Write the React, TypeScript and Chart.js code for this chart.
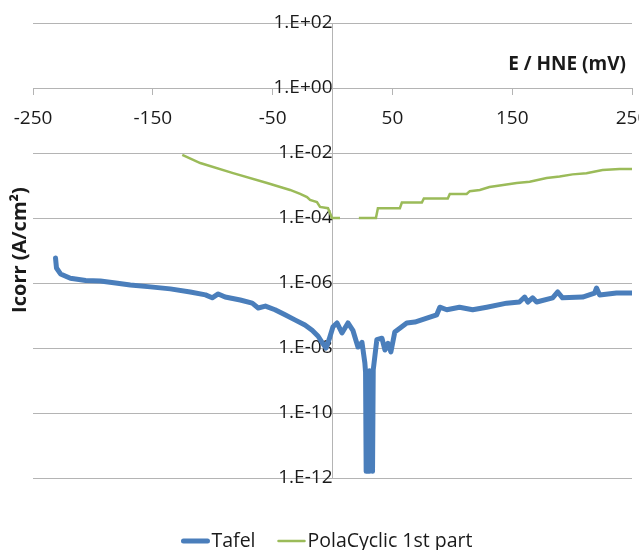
import React, { useEffect, useRef } from 'react';
import { Chart, registerables } from 'chart.js';

Chart.register(...registerables);

// ---- data ----
const xTickValues = [-250, -150, -50, 50, 150, 250];
const yTickValues = [1e-12, 1e-10, 1e-8, 1e-6, 1e-4, 1e-2, 1, 1e2];

const tafelE = [
  -231.2, -230.4, -227, -218.8, -206, -193.75, -181, -168.75, -152, -135.4,
  -118.75, -106, -100.4, -95.4, -89.6, -77, -67, -62, -56, -48,
  -39.6, -31, -23, -17, -12, -8.75, -5.4, -2.9, 0.4, 3.75,
  7.9, 12.9, 17, 21.25, 24.6, 27, 27.6, 28.1, 30.6, 30.9,
  33.4, 34,
  37, 41.25, 43.75, 46.25, 48.75, 52, 62, 68.75, 78.75, 87,
  89.6, 95.4, 106, 117, 128.75, 145.4, 156, 160.4, 163, 167,
  170.4, 183.75, 188, 192, 208.75, 218.75, 220.4, 223, 237, 249.6,
];
const tafelI = [
  5.9e-6, 2.9e-6, 1.9e-6, 1.4e-6, 1.2e-6, 1.15e-6, 1.0e-6, 8.7e-7, 7.6e-7, 6.6e-7,
  5.3e-7, 4.3e-7, 3.5e-7, 4.6e-7, 3.7e-7, 3.0e-7, 2.4e-7, 1.7e-7, 1.95e-7, 1.5e-7,
  1.05e-7, 7.2e-8, 5.1e-8, 3.5e-8, 2.3e-8, 1.5e-8, 1.0e-8, 1.8e-8, 4.5e-8, 5.9e-8,
  2.9e-8, 5.9e-8, 3.5e-8, 1.07e-8, 1.5e-8, 3.5e-9, 1.8e-9, 1.6e-12, 1.6e-12, 2.0e-9,
  1.6e-12, 2.1e-9,
  1.8e-8, 2.0e-8, 8.7e-9, 1.4e-8, 7.6e-9, 3.1e-8, 5.9e-8, 6.3e-8, 8.3e-8, 1.05e-7,
  1.8e-7, 1.5e-7, 1.8e-7, 1.5e-7, 1.8e-7, 2.4e-7, 2.6e-7, 3.7e-7, 2.6e-7, 3.5e-7,
  2.6e-7, 3.5e-7, 5.3e-7, 3.5e-7, 3.7e-7, 4.9e-7, 7.0e-7, 4.3e-7, 4.9e-7, 4.9e-7,
];

const polaE = [
  -125.4, -110.4, -83, -54.6, -35.4, -27, -21.25, -18.75, -13, -10.4,
  -3.75, -0.4, 6.25, 14, 22, 36.25, 37.9, 56.25, 57.9, 74.6,
  76.25, 96.25, 97.9, 112, 114.6, 123, 131, 139.6, 153.75, 164.6,
  178.75, 189.6, 200.4, 212, 225.4, 239.6, 250,
];
const polaI: (number | null)[] = [
  8.7e-3, 4.9e-3, 2.4e-3, 1.2e-3, 7.3e-4, 5.5e-4, 4.4e-4, 3.6e-4, 3.1e-4, 2.2e-4,
  2.0e-4, 1.0e-4, 1.0e-4, null, 1.0e-4, 1.0e-4, 2.0e-4, 2.0e-4, 3.0e-4, 3.0e-4,
  4.0e-4, 4.0e-4, 5.5e-4, 5.5e-4, 6.7e-4, 7.3e-4, 9.0e-4, 1.0e-3, 1.2e-3, 1.3e-3,
  1.7e-3, 1.9e-3, 2.2e-3, 2.4e-3, 3.0e-3, 3.2e-3, 3.2e-3,
];

const seriesNames = ['Tafel', 'PolaCyclic 1st part'];
const xTitle = 'E / HNE (mV)';
const yTitle = 'Icorr (A/cm²)';

const BLUE = '#4a7ebb';
const GREEN = '#9bbb59';
const GRID = '#b4b4b4';
const TEXT = '#1a1a1a';
const FONT = '"Open Sans", "Liberation Sans", sans-serif';

function fmtExp(v: number): string {
  const e = Math.round(Math.log10(v));
  const sign = e < 0 ? '-' : '+';
  const a = Math.abs(e);
  return '1.E' + sign + (a < 10 ? '0' + a : String(a));
}

const decorPlugin = {
  id: 'decor',
  afterDraw(chart: any) {
    const ctx: CanvasRenderingContext2D = chart.ctx;
    ctx.save();
    ctx.fillStyle = TEXT;
    // x axis title
    ctx.font = `bold 19px ${FONT}`;
    ctx.textAlign = 'right';
    ctx.textBaseline = 'middle';
    ctx.fillText(xTitle, 626, 65);
    // y axis title
    ctx.save();
    ctx.translate(20, 250);
    ctx.rotate(-Math.PI / 2);
    ctx.textAlign = 'center';
    ctx.font = `bold 20px ${FONT}`;
    ctx.fillText(yTitle, 0, 0);
    ctx.restore();

    // legend
    ctx.font = `19.5px ${FONT}`;
    ctx.textAlign = 'left';
    const w0 = ctx.measureText(seriesNames[0]).width;
    const w1 = ctx.measureText(seriesNames[1]).width;
    const lineW = 28;
    const gap = 2;
    const itemGap = 22;
    const total = lineW + gap + w0 + itemGap + lineW + gap + w1;
    let x = 327 - total / 2;
    const y = 541;
    ctx.lineCap = 'round';
    ctx.strokeStyle = BLUE;
    ctx.lineWidth = 5;
    ctx.beginPath();
    ctx.moveTo(x + 2, y);
    ctx.lineTo(x + lineW - 2, y);
    ctx.stroke();
    ctx.fillText(seriesNames[0], x + lineW + gap, y);
    x += lineW + gap + w0 + itemGap;
    ctx.strokeStyle = GREEN;
    ctx.lineWidth = 2.5;
    ctx.beginPath();
    ctx.moveTo(x + 1, y);
    ctx.lineTo(x + lineW - 1, y);
    ctx.stroke();
    ctx.fillText(seriesNames[1], x + lineW + gap, y);
    ctx.restore();
  },
};

export default function App() {
  const ref = useRef<HTMLCanvasElement>(null);

  useEffect(() => {
    let chart: Chart | null = null;
    let cancelled = false;
    const make = () => {
      if (cancelled || !ref.current) return;
      chart = new Chart(ref.current, {
        type: 'scatter',
        data: {
          datasets: [
            {
              label: seriesNames[0],
              data: tafelE.map((e, i) => ({ x: e, y: tafelI[i] })),
              showLine: true,
              borderColor: BLUE,
              backgroundColor: BLUE,
              borderWidth: 5,
              borderJoinStyle: 'round',
              borderCapStyle: 'round',
              pointRadius: 0,
              pointHoverRadius: 0,
              tension: 0,
              order: 1,
            },
            {
              label: seriesNames[1],
              data: polaE.map((e, i) => ({ x: e, y: polaI[i] as any })),
              showLine: true,
              spanGaps: false,
              borderColor: GREEN,
              backgroundColor: GREEN,
              borderWidth: 2.5,
              pointRadius: 0,
              pointHoverRadius: 0,
              tension: 0,
              order: 0,
            },
          ],
        },
        options: {
          responsive: false,
          animation: false,
          devicePixelRatio: 1,
          layout: { padding: { left: 33, right: 7, top: 23, bottom: 72 } },
          scales: {
            x: {
              type: 'linear',
              min: -250,
              max: 250,
              position: { y: 1 } as any,
              afterBuildTicks: (s: any) => {
                s.ticks = xTickValues.map((v) => ({ value: v }));
              },
              afterFit: (s: any) => {
                s.paddingLeft = 0;
                s.paddingRight = 0;
                s.paddingTop = 0;
                s.paddingBottom = 0;
              },
              grid: { drawOnChartArea: false, drawTicks: true, tickLength: 6, color: GRID },
              border: { color: GRID, width: 1 },
              ticks: {
                color: TEXT,
                font: { family: FONT, size: 19 },
                padding: 13,
                maxRotation: 0,
                autoSkip: false,
                callback: (v: any) => String(v),
              },
            },
            y: {
              type: 'logarithmic',
              min: 1e-12,
              max: 1e2,
              position: { x: 0 } as any,
              afterBuildTicks: (s: any) => {
                s.ticks = yTickValues.map((v) => ({ value: v }));
              },
              afterFit: (s: any) => {
                s.paddingLeft = 0;
                s.paddingRight = 0;
                s.paddingTop = 0;
                s.paddingBottom = 0;
              },
              grid: { drawTicks: false, color: GRID },
              border: { color: GRID, width: 1 },
              ticks: {
                color: TEXT,
                font: { family: FONT, size: 19 },
                padding: 20,
                autoSkip: false,
                callback: (v: any) => fmtExp(Number(v)),
              },
            },
          },
          plugins: {
            legend: { display: false },
            tooltip: { enabled: false },
          },
        },
        plugins: [decorPlugin],
      } as any);
    };
    if ((document as any).fonts && (document as any).fonts.load) {
      Promise.all([
        document.fonts.load(`19px "Open Sans"`),
        document.fonts.load(`bold 19px "Open Sans"`),
      ]).then(make, make);
    } else {
      make();
    }
    return () => {
      cancelled = true;
      if (chart) chart.destroy();
    };
  }, []);

  return (
    <div style={{ position: 'absolute', left: 0, top: 0, width: 639, height: 550, background: '#fff' }}>
      <canvas ref={ref} width={639} height={550} style={{ display: 'block' }} />
    </div>
  );
}
